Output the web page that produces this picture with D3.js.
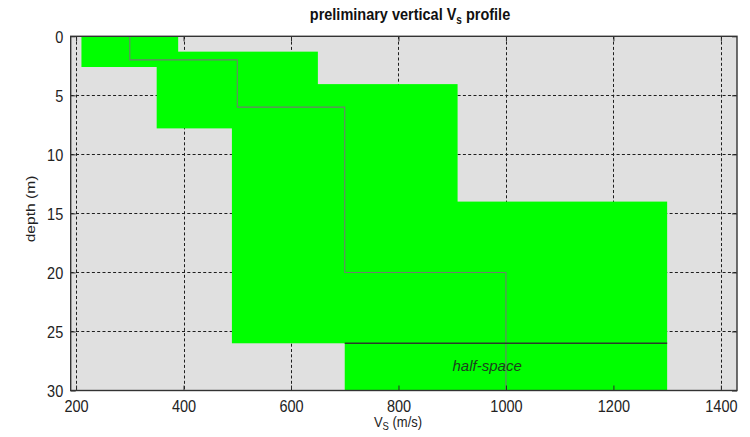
<!DOCTYPE html>
<html>
<head>
<meta charset="utf-8">
<script src="https://cdn.jsdelivr.net/npm/d3@7"></script>
<style>
  html, body { margin: 0; padding: 0; background: #fff; }
  svg { display: block; font-family: "Liberation Sans", Arial, sans-serif; }
</style>
</head>
<body>
<svg id="chart" width="750" height="437"></svg>
<script>
// Shear-wave velocity bands (min/max Vs and depth extent of each layer)
const bandVsLow    = [210, 350, 490, 700, 700];
const bandVsHigh   = [390, 650, 910, 1300, 1300];
const bandTop      = [0, 1.3, 4.05, 14, 26];
const bandBottom   = [2.6, 7.8, 26, 26, 30];

// Preferred layered profile
const layerVs      = [300, 500, 700, 1000];
const layerBottom  = [2, 6, 20, 30];
const halfSpaceTop = 26;
const halfSpaceVs  = [700, 1300];

// Axes
const xTicks = [200, 400, 600, 800, 1000, 1200, 1400];
const yTicks = [0, 5, 10, 15, 20, 25, 30];
const xDomain = [190, 1430];
const yDomain = [0, 30];

const K = 1.2; // vertical stretch applied to text glyphs

const svg = d3.select("#chart");
const L = 70.7, R = 737, T = 36.3, B = 390.5;

const x = d3.scaleLinear().domain(xDomain).range([L, R]);
const y = d3.scaleLinear().domain(yDomain).range([T, B]);

// plot background
svg.append("rect")
  .attr("x", L).attr("y", T)
  .attr("width", R - L).attr("height", B - T)
  .attr("fill", "#e0e0e0");

// dashed grid
const grid = svg.append("g").attr("stroke", "#1e1e1e").attr("stroke-width", 1)
  .attr("stroke-dasharray", "3,2.3");
grid.selectAll("line.v").data(xTicks).join("line")
  .attr("class", "v")
  .attr("x1", d => Math.round(x(d)) + 0.5).attr("x2", d => Math.round(x(d)) + 0.5)
  .attr("y1", T).attr("y2", B);
grid.selectAll("line.h").data(yTicks.filter(d => d > 0 && d < 30)).join("line")
  .attr("class", "h")
  .attr("x1", L).attr("x2", R)
  .attr("y1", d => Math.round(y(d)) + 0.5).attr("y2", d => Math.round(y(d)) + 0.5);

// velocity bands
const bands = bandVsLow.map((lo, i) => ({lo, hi: bandVsHigh[i], top: bandTop[i], bot: bandBottom[i]}));
svg.append("g").selectAll("rect").data(bands).join("rect")
  .attr("x", d => x(d.lo)).attr("width", d => x(d.hi) - x(d.lo))
  .attr("y", d => y(d.top)).attr("height", d => y(d.bot) - y(d.top))
  .attr("fill", "#00ff00");

// preferred profile as a staircase
const pts = [];
let depthAbove = 0;
layerVs.forEach((v, i) => {
  pts.push([v, depthAbove]);
  pts.push([v, layerBottom[i]]);
  depthAbove = layerBottom[i];
});
svg.append("path")
  .attr("d", d3.line().x(d => x(d[0])).y(d => y(d[1]))(pts))
  .attr("fill", "none").attr("stroke", "#6e7e6e").attr("stroke-width", 1.1);

// half-space boundary
svg.append("line")
  .attr("x1", x(halfSpaceVs[0])).attr("x2", x(halfSpaceVs[1]))
  .attr("y1", y(halfSpaceTop)).attr("y2", y(halfSpaceTop))
  .attr("stroke", "#2b3b2b").attr("stroke-width", 1.3);

svg.append("text")
  .attr("x", x(965)).attr("y", y(28) + 4.5)
  .attr("text-anchor", "middle")
  .attr("font-style", "italic").attr("font-size", 15)
  .attr("fill", "#1d3f1d")
  .text("half-space");

// axes with inward ticks (labels on bottom and left only)
function styleAxis(g) {
  g.select(".domain").remove();
  g.selectAll(".tick line").attr("stroke", "#2a2a2a").attr("stroke-width", 1);
}
const xAxis = svg.append("g").attr("transform", `translate(0,${B})`)
  .call(d3.axisBottom(x).tickValues(xTicks).tickSize(-5).tickFormat(d3.format("d")))
  .call(styleAxis);
xAxis.selectAll(".tick text")
  .attr("y", 0).attr("dy", null)
  .attr("transform", `translate(0,21) scale(1,${K})`)
  .attr("font-size", 14.5).attr("fill", "#222")
  .attr("font-family", "'Liberation Sans', Arial, sans-serif");

svg.append("g").attr("transform", `translate(0,${T})`)
  .call(d3.axisTop(x).tickValues(xTicks).tickSize(-5).tickFormat(""))
  .call(styleAxis);

const yAxis = svg.append("g").attr("transform", `translate(${L},0)`)
  .call(d3.axisLeft(y).tickValues(yTicks).tickSize(-5).tickFormat(d3.format("d")))
  .call(styleAxis);
yAxis.selectAll(".tick text")
  .attr("x", 0).attr("dy", null)
  .attr("transform", `translate(-7.5,6) scale(1,${K})`)
  .attr("font-size", 14.5).attr("fill", "#222")
  .attr("font-family", "'Liberation Sans', Arial, sans-serif");

svg.append("g").attr("transform", `translate(${R},0)`)
  .call(d3.axisRight(y).tickValues(yTicks).tickSize(-5).tickFormat(""))
  .call(styleAxis);

// axes box
svg.append("rect")
  .attr("x", L).attr("y", T)
  .attr("width", R - L).attr("height", B - T)
  .attr("fill", "none").attr("stroke", "#333").attr("stroke-width", 1.4);

// title
const title = svg.append("g").attr("transform", `translate(410,20) scale(1,${K})`)
  .append("text").attr("text-anchor", "middle")
  .attr("font-weight", "bold").attr("font-size", 14.5).attr("fill", "#111");
title.append("tspan").text("preliminary vertical V");
title.append("tspan").attr("font-size", 10).attr("dy", 3).text("s");
title.append("tspan").attr("dy", -3).text(" profile");

// x label
const xl = svg.append("g").attr("transform", `translate(398,426.5) scale(1,1.12)`)
  .append("text").attr("text-anchor", "middle").attr("font-size", 13).attr("fill", "#222");
xl.append("tspan").text("V");
xl.append("tspan").attr("font-size", 9.5).attr("dy", 3.5).text("S");
xl.append("tspan").attr("dy", -3.5).text(" (m/s)");

// y label
svg.append("g").attr("transform", `translate(35,209) scale(1,${K}) rotate(-90)`)
  .append("text").attr("text-anchor", "middle").attr("font-size", 13).attr("fill", "#222")
  .text("depth (m)");
</script>
</body>
</html>
